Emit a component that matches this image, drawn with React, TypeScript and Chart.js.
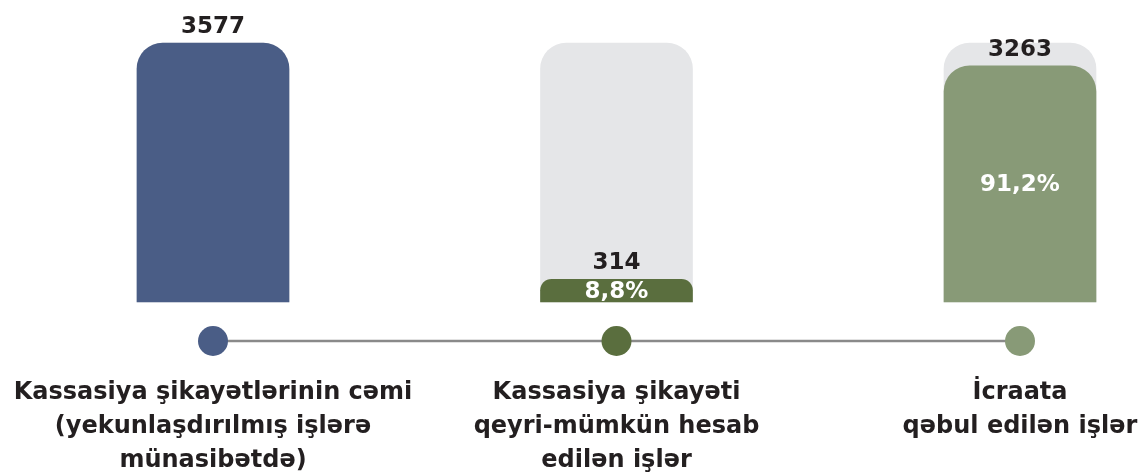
import React, { useEffect, useRef } from "react";
import { Chart, registerables } from "chart.js";

Chart.register(...registerables);

const categoryLabels: string[][] = [
  ["Kassasiya şikayətlərinin cəmi", "(yekunlaşdırılmış işlərə", "münasibətdə)"],
  ["Kassasiya şikayəti", "qeyri-mümkün hesab", "edilən işlər"],
  ["İcraata", "qəbul edilən işlər"],
];
const values: number[] = [3577, 314, 3263];
const totalReference: number[] = [3577, 3577, 3577];
const showPercent: boolean[] = [false, true, true];
const barColors: string[] = ["#4a5d86", "#5a6e3e", "#889a77"];
const trackColor = "#e5e6e8";
const textColor = "#231f20";
const FONT = "'DejaVu Sans', sans-serif";

const overlayPlugin = {
  id: "overlay",
  afterDatasetsDraw(chart: any) {
    const ctx = chart.ctx;
    const meta = chart.getDatasetMeta(0);
    const xScale = chart.scales.x;
    const total = totalReference[0];
    ctx.save();
    meta.data.forEach((bar: any, i: number) => {
      const x = bar.x;
      const top = bar.y;
      const base = bar.base;
      ctx.fillStyle = textColor;
      ctx.font = `bold 23px ${FONT}`;
      ctx.textAlign = "center";
      ctx.textBaseline = "alphabetic";
      ctx.fillText(String(values[i]), x, top - 10);
      if (showPercent[i]) {
        const pct = ((values[i] / total) * 100).toFixed(1).replace(".", ",") + "%";
        ctx.fillStyle = "#ffffff";
        ctx.textBaseline = "middle";
        ctx.fillText(pct, x, (top + base) / 2 + 1);
      }
    });
    // timeline
    const lineY = 341;
    const x0 = xScale.getPixelForValue(0);
    const x2 = xScale.getPixelForValue(values.length - 1);
    ctx.strokeStyle = "#8a8a8a";
    ctx.lineWidth = 2.5;
    ctx.beginPath();
    ctx.moveTo(x0, lineY);
    ctx.lineTo(x2, lineY);
    ctx.stroke();
    values.forEach((_, i) => {
      const x = xScale.getPixelForValue(i);
      ctx.fillStyle = barColors[i];
      ctx.beginPath();
      ctx.arc(x, lineY, 15, 0, Math.PI * 2);
      ctx.fill();
      // category labels
      ctx.fillStyle = textColor;
      ctx.font = `bold 24px ${FONT}`;
      ctx.textAlign = "center";
      ctx.textBaseline = "middle";
      categoryLabels[i].forEach((line, j) => {
        ctx.fillText(line, x, 393 + j * 34);
      });
    });
    ctx.restore();
  },
};

export default function App() {
  const ref = useRef<HTMLCanvasElement | null>(null);
  useEffect(() => {
    if (!ref.current) return;
    const chart = new Chart(ref.current, {
      type: "bar",
      data: {
        labels: categoryLabels.map((l) => l.join(" ")),
        datasets: [
          {
            data: values,
            backgroundColor: barColors,
            borderRadius: { topLeft: 26, topRight: 26, bottomLeft: 0, bottomRight: 0 },
            borderSkipped: false,
            barThickness: 152,
            grouped: false,
            clip: false as any,
            order: 0,
          },
          {
            data: totalReference,
            backgroundColor: trackColor,
            borderRadius: { topLeft: 26, topRight: 26, bottomLeft: 0, bottomRight: 0 },
            borderSkipped: false,
            barThickness: 152,
            grouped: false,
            clip: false as any,
            order: 1,
          },
        ],
      },
      options: {
        animation: false,
        responsive: true,
        maintainAspectRatio: false,
        devicePixelRatio: 1,
        layout: { padding: { left: 213, right: 124, top: 43, bottom: 170 } },
        plugins: { legend: { display: false }, tooltip: { enabled: false } },
        scales: {
          x: { display: false, offset: false, grid: { display: false } },
          y: { display: false, min: 0, max: 3577, grid: { display: false } },
        },
      },
      plugins: [overlayPlugin],
    });
    return () => chart.destroy();
  }, []);
  return (
    <div style={{ position: "fixed", left: 0, top: 0, width: 1144, height: 472, background: "#fff" }}>
      <canvas ref={ref} />
    </div>
  );
}
